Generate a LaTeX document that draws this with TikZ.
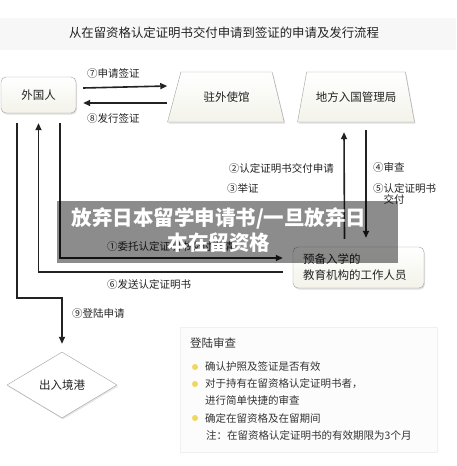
\documentclass[tikz,border=0pt]{standalone}
\usepackage{fontspec}
\newfontfamily\cjk{Noto Sans CJK SC}
\usetikzlibrary{shapes.geometric,shadows,arrows.meta}
\definecolor{ink}{HTML}{222222}
\definecolor{rim}{HTML}{A0A0A0}
\definecolor{cream}{HTML}{F3F3EA}
\definecolor{dot}{HTML}{F0D860}
\definecolor{note}{HTML}{333333}
\tikzset{
  flow/.style={draw=ink, line width=1.6pt, -{Triangle[length=7pt,width=6pt]}},
  line/.style={draw=ink, line width=1.6pt},
  lbl/.style={font=\cjk\fontsize{10.5}{12}\selectfont, text=ink, inner sep=0pt},
  txt/.style={font=\cjk\fontsize{10.5}{12}\selectfont, text=note, inner sep=0pt, anchor=west},
  box/.style={draw=rim, rounded corners=5pt, top color=white, bottom color=cream,
    font=\cjk\fontsize{11.5}{16}\selectfont, text=ink,
    drop shadow={opacity=0.25, shadow xshift=1pt, shadow yshift=-1.5pt}},
  office/.style={trapezium, trapezium stretches=true, draw=rim, top color=white, bottom color=cream,
    minimum width=117pt, minimum height=50pt, font=\cjk\fontsize{11.5}{14}\selectfont, text=ink,
    drop shadow={opacity=0.25, shadow xshift=1pt, shadow yshift=-1.5pt}},
  port/.style={diamond, draw=rim, fill=white, minimum width=110pt, minimum height=66pt, inner sep=0pt,
    font=\cjk\fontsize{11.5}{14}\selectfont, text=ink,
    drop shadow={opacity=0.2, shadow xshift=1pt, shadow yshift=-1.5pt}},
  panel/.style={draw=black!6, fill=black!1, minimum width=257pt, minimum height=125pt},
}
\begin{document}
\begin{tikzpicture}[x=1pt,y=-1pt]
    \useasboundingbox (0,0) rectangle (456,466);
    \fill[black!3] (0,18) rectangle (456,50);
    \node[lbl, font=\cjk\fontsize{12.4}{14}\selectfont] (title) at (224,33) {从在留资格认定证明书交付申请到签证的申请及发行流程};

    \node[box, minimum width=75pt, minimum height=36pt] (waiguo) at (38.5,95) {外国人};
    \node[office, trapezium left angle=66, trapezium right angle=68] (dashi) at (226.5,97) {驻外使馆};
    \node[office, trapezium left angle=65, trapezium right angle=65] (ruguo) at (356,97) {地方入国管理局};
    \node[box, text width=111pt, minimum height=41pt, align=left, inner xsep=10pt] (yubei) at (358.5,267.5) {预备入学的\\教育机构的工作人员};
    \node[port] (kou) at (62,385) {出入境港};
    \node[panel] (shencha) at (308.5,389.5) {};

    % visa
    \draw[flow] ([shift={(7pt,7pt)}]waiguo.east) -- ([yshift=9pt]dashi.bottom left corner |- waiguo.east);
    \draw[flow] ([yshift=-8pt]dashi.bottom left corner |- waiguo.east) -- ([shift={(7pt,-8pt)}]waiguo.east);
    \node[lbl, anchor=west] (l7) at (87,74) {⑦申请签证};
    \node[lbl, anchor=west] (l8) at (87,119) {⑧发行签证};

    % certificate
    \draw[flow] ([shift={(21.5pt,-10pt)}]waiguo.south) |- ([shift={(-10pt,9.5pt)}]yubei.west);
    \draw[flow] ([shift={(-10pt,-4.5pt)}]yubei.west) -| ([yshift=-10pt]waiguo.south);
    \node[lbl, anchor=west] (l1) at (107,246) {①委托认定证明书交付申请};
    \node[lbl, anchor=west] (l6) at (107,285) {⑥发送认定证明书};

    \draw[flow] ([shift={(-14pt,8pt)}]yubei.north) -- ([shift={(-12pt,-10pt)}]ruguo.south);
    \draw[flow] ([shift={(10pt,-8pt)}]ruguo.south) -- ([shift={(7.5pt,9pt)}]yubei.north);
    \node[lbl, anchor=east] (l2) at (334,168) {②认定证明书交付申请};
    \node[lbl, anchor=west] (l3) at (227,189) {③举证};
    \node[lbl, anchor=west] (l4) at (373,168) {④审查};
    \node[lbl, anchor=north west, align=left, font=\cjk\fontsize{10.5}{11.5}\selectfont] (l5) at (373,183) {⑤认定证明书\\\hspace{1em}交付};

    % landing
    \draw[flow] ([shift={(-21.5pt,-10pt)}]waiguo.south) |- ([yshift=54pt]kou.north) -- ([yshift=8pt]kou.north);
    \node[lbl, anchor=west] (l9) at (72,314) {⑨登陆申请};

    \node[lbl, anchor=west, font=\cjk\fontsize{11.5}{14}\selectfont, text=note] (st) at (190,343) {登陆审查};
    \foreach \y in {367,384,418}
        \fill[dot] (195,\y) circle (3pt);
    \node[txt] (s1) at (205,367) {确认护照及签证是否有效};
    \node[txt] (s2) at (205,384) {对于持有在留资格认定证明书者，};
    \node[txt] (s3) at (205,400) {进行简单快捷的审查};
    \node[txt] (s4) at (205,418) {确定在留资格及在留期间};
    \node[txt] (s5) at (206,436) {注：在留资格认定证明书的有效期限为3个月};

    % caption band
    \fill[black, fill opacity=0.45] (57,201) rectangle (398,263);
    \node[text=white, font=\cjk\bfseries\fontsize{20.5}{25}\selectfont, align=center, inner sep=0pt] (banner) at (219,230.5) {放弃日本留学申请书/一旦放弃日\\本在留资格};
\end{tikzpicture}
\end{document}
